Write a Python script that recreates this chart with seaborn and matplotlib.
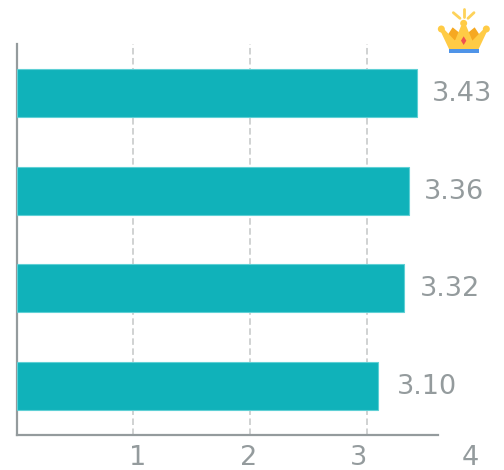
import matplotlib
matplotlib.use('Agg')
import matplotlib.pyplot as plt
from matplotlib.lines import Line2D
from matplotlib.patches import Circle, Polygon
from matplotlib.transforms import IdentityTransform
import pandas as pd
import seaborn as sns

names = ['A', 'B', 'C', 'D']
scores = [3.43, 3.36, 3.32, 3.10]
score_labels = ['3.43', '3.36', '3.32', '3.10']
ticks = [1, 2, 3, 4]
tick_labels = ['1', '2', '3', '4']

W, H = 504, 470
GREY = '#949b9d'

sns.set_style('white')
plt.rcParams['font.family'] = ['DejaVu Sans']

df = pd.DataFrame({'name': names, 'score': scores})
fig = plt.figure(figsize=(W / 100, H / 100), dpi=100)
ax = fig.add_axes([16.5 / W, (H - 435) / H, (438 - 16.5) / W, (435 - 44) / H])

sns.barplot(data=df, x='score', y='name', orient='h', color='#10b2ba', saturation=1,
            width=0.49, edgecolor='#5fd0d5', linewidth=0.8, zorder=3, ax=ax)
ax.set_xlim(0, 3.61)
ax.set_ylim(3.5, -0.5)
ax.set_xlabel('')
ax.set_ylabel('')
ax.set_yticks([])
ax.set_xticks(ticks[:3])
ax.tick_params(axis='x', length=0, labelbottom=False)
ax.grid(axis='x', color='#d0d2d2', linestyle=(0, (3.35, 1.8)), linewidth=1.4, zorder=0)
ax.set_axisbelow(True)
sns.despine(ax=ax)
for side in ['left', 'bottom']:
    ax.spines[side].set_color(GREY)
    ax.spines[side].set_linewidth(1.6)

# value labels
gaps = [15, 15, 16, 18]
for i, (v, s, gap) in enumerate(zip(scores, score_labels, gaps)):
    ax.annotate(s, xy=(v, i), xytext=(gap, -1), textcoords='offset pixels',
                va='center', ha='left', fontsize=19.5, color=GREY, clip_on=False)

# axis numbers do not sit under their gridlines in the original
nudge = [4, -1, -8, -13]
for t, s, dx in zip(ticks, tick_labels, nudge):
    ax.annotate(s, xy=(t, 0), xycoords=ax.get_xaxis_transform(), xytext=(dx, -36),
                textcoords='offset pixels', ha='center', va='bottom', fontsize=19.5,
                color=GREY, annotation_clip=False)

# crown, traced in pixels
def px(x, y):
    return (400 + x / 3, H - y / 3)

def poly(points, color):
    fig.add_artist(Polygon([px(*p) for p in points], closed=True, facecolor=color,
                           edgecolor='none', transform=IdentityTransform()))

poly([(143, 105), (158, 82), (180, 100), (165, 124)], '#f6a821')
poly([(202, 100), (224, 82), (239, 105), (217, 124)], '#f6a821')
poly([(120, 90), (147, 147), (236, 147), (263, 90), (253, 85), (217, 122), (199, 78),
      (183, 78), (165, 122), (130, 85)], '#ffcb45')
poly([(147, 147), (236, 147), (236, 158), (147, 158)], '#4f94e8')
poly([(191, 109), (199, 122), (191, 135), (183, 122)], '#f0524f')
for p in [(124, 87), (191, 70), (259, 87)]:
    fig.add_artist(Circle(px(*p), 3.5, facecolor='#ffcb45', edgecolor='none',
                          transform=IdentityTransform()))
for a, b in [((160, 38), (180, 55)), ((191, 27), (191, 52)), ((222, 38), (204, 55))]:
    xa, ya = px(*a)
    xb, yb = px(*b)
    fig.add_artist(Line2D([xa, xb], [ya, yb], color='#fdd25a', linewidth=2,
                          transform=IdentityTransform()))

fig.savefig('out.png', dpi=100)
